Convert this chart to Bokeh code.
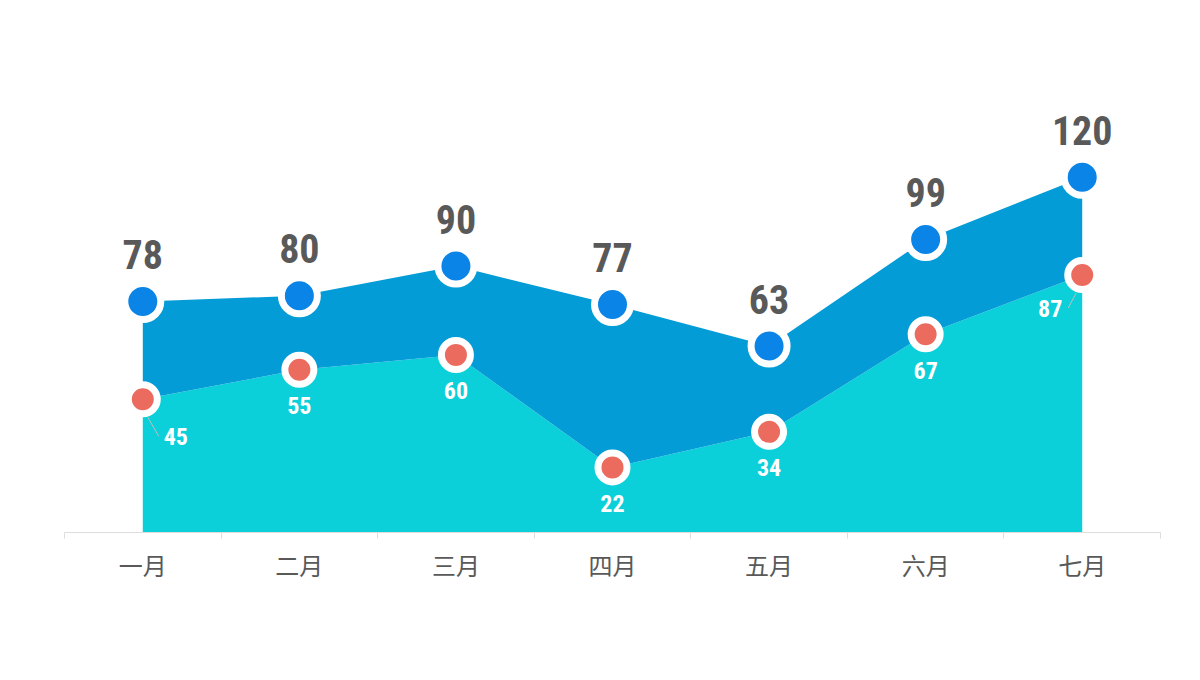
from bokeh.plotting import figure
from bokeh.models import FixedTicker, ColumnDataSource
from bokeh.core.properties import value
from bokeh.embed import file_html
from bokeh.resources import INLINE

months = ["一月", "二月", "三月", "四月", "五月", "六月", "七月"]
series_top = [78, 80, 90, 77, 63, 99, 120]
series_bottom = [45, 55, 60, 22, 34, 67, 87]

FRAME_W, FRAME_H = 1096, 444
Y_MAX = 150
xs = [i + 0.5 for i in range(len(months))]
px_x = FRAME_W / len(months)
px_y = FRAME_H / Y_MAX

p = figure(width=1200, height=680, frame_width=FRAME_W, frame_height=FRAME_H,
           x_range=(0, len(months)), y_range=(0, Y_MAX),
           min_border_left=64, min_border_right=40, min_border_top=88, min_border_bottom=148,
           output_backend="svg", toolbar_location=None)
p.outline_line_color = None
p.grid.visible = False
p.yaxis.visible = False
p.background_fill_color = "white"
p.border_fill_color = "white"

# areas
p.varea(x=xs, y1=[0] * len(xs), y2=series_bottom, fill_color="#0bcfd9", fill_alpha=1)
p.varea(x=xs, y1=series_bottom, y2=series_top, fill_color="#049cd6", fill_alpha=1)

# x axis
ax = p.xaxis[0]
ax.ticker = FixedTicker(ticks=xs, minor_ticks=list(range(len(months) + 1)))
ax.major_label_overrides = {x: m for x, m in zip(xs, months)}
ax.axis_line_color = "#dddddd"
ax.axis_line_width = 1
ax.major_tick_line_color = None
ax.minor_tick_line_color = "#dddddd"
ax.minor_tick_out = 6
ax.minor_tick_in = 0
ax.major_label_standoff = 8
ax.major_label_text_font = "Noto Sans CJK SC"
ax.major_label_text_font_size = "24px"
ax.major_label_text_color = "#595959"

# label leader lines for first and last bottom labels
lead = [(0, 5, 18, 16, 37), (len(xs) - 1, -6, 18, -14, 33)]
for i, sx0, sy0, sx1, sy1 in lead:
    p.segment(x0=[xs[i] + sx0 / px_x], y0=[series_bottom[i] - sy0 / px_y],
              x1=[xs[i] + sx1 / px_x], y1=[series_bottom[i] - sy1 / px_y],
              line_color="#bfbfbf", line_width=1)

# markers
p.scatter(x=xs, y=series_top, size=36, fill_color="#0a84e6", line_color="white", line_width=7)
p.scatter(x=xs, y=series_bottom, size=29, fill_color="#eb6c5f", line_color="white", line_width=7)

cond = "'Roboto Condensed', 'DejaVu Sans Condensed', 'Liberation Sans Narrow', sans-serif"
p.text(x=xs, y=series_top, text=[str(v) for v in series_top], y_offset=-47,
       text_align="center", text_baseline="middle", text_font=value(cond),
       text_font_style="bold", text_font_size="40px", text_color="#595959")

bx_off = [33, 0, 0, 0, 0, 0, -32]
by_off = [37, 36, 36, 36, 36, 36, 34]
src = ColumnDataSource(dict(x=xs, y=series_bottom, t=[str(v) for v in series_bottom],
                            xo=bx_off, yo=by_off))
p.text(x="x", y="y", text="t", x_offset="xo", y_offset="yo", source=src,
       text_align="center", text_baseline="middle", text_font=value(cond),
       text_font_style="bold", text_font_size="24px", text_color="white")

open("out.html", "w").write(file_html(p, INLINE))
